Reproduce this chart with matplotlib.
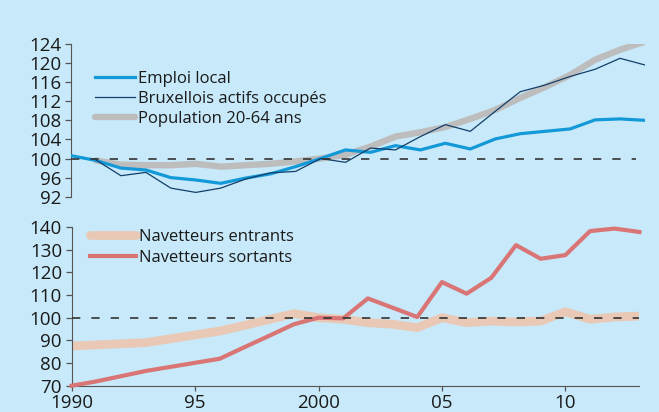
import matplotlib
matplotlib.use("Agg")
import numpy as np
import matplotlib.pyplot as plt

plt.rcParams["font.family"] = ["Open Sans", "DejaVu Sans"]

years = list(range(1990, 2014))

# panneau du haut
emploi_local = [100.6, 99.6, 98.0, 97.6, 96.0, 95.5, 94.8, 95.9, 96.8, 98.3, 100.0, 101.8,
                101.3, 102.7, 101.8, 103.2, 102.0, 104.1, 105.2, 105.7, 106.2, 108.1, 108.3, 108.0]
bruxellois = [np.nan, 99.7, 96.4, 97.1, 93.8, 92.9, 93.8, 95.7, 97.0, 97.3, 100.0, 99.2,
              102.2, 101.8, 104.6, 107.1, 105.7, 109.9, 114.0, 115.4, 117.2, 118.7, 121.0, 119.6]
population = [np.nan, 99.6, 98.7, 98.6, 98.6, 98.9, 98.3, 98.6, 98.9, 99.4, 100.0, 100.8,
              102.5, 104.6, 105.5, 106.6, 108.3, 110.2, 112.7, 115.0, 117.5, 120.7, 122.8, 124.5]

# panneau du bas
entrants = [87.5, 88.0, 88.5, 89.0, 90.7, 92.4, 94.1, 96.6, 99.2, 101.8, 100.0, 99.3,
            97.8, 97.1, 95.6, 100.0, 97.8, 98.5, 98.1, 98.5, 102.6, 99.3, 100.3, 100.7]
sortants = [70.0, 71.9, 74.2, 76.5, 78.3, 80.1, 81.9, 87.0, 92.0, 97.1, 100.0, 99.7,
            108.5, 104.4, 100.3, 115.7, 110.6, 117.6, 132.0, 126.0, 127.6, 138.2, 139.3, 137.8]

top_ticks = [92, 96, 100, 104, 108, 112, 116, 120, 124]
bottom_ticks = [70, 80, 90, 100, 110, 120, 130, 140]
x_ticks = [1990, 1995, 2000, 2005, 2010]
x_labels = ["1990", "95", "2000", "05", "10"]

bg = "#c7e9f9"
axis_col = "#555555"
text_col = "#1a1a1a"
fs = 13.5

fig = plt.figure(figsize=(6.59, 4.12), dpi=100, facecolor=bg)
ax1 = fig.add_axes([71 / 659, 1 - 196.7 / 412, 574 / 659, 152.7 / 412])
ax2 = fig.add_axes([71.7 / 659, 1 - 385.7 / 412, 567.7 / 659, 158.7 / 412])

for ax in (ax1, ax2):
    ax.set_facecolor(bg)
    ax.spines["top"].set_visible(False)
    ax.spines["right"].set_visible(False)
    ax.spines["left"].set_color(axis_col)
    ax.spines["bottom"].set_color(axis_col)
    ax.tick_params(axis="both", colors=axis_col, labelcolor=text_col, labelsize=fs,
                   length=4.5, width=0.9, pad=2.5)
    ax.set_xlim(1990, 2013)

dash = (0, (5, 6.6))

# haut
ax1.plot(years, population, color="#bdbdbd", lw=4.6, solid_capstyle="round",
         label="Population 20-64 ans", zorder=2)
ax1.plot(years, emploi_local, color="#1399d8", lw=2.3, label="Emploi local", zorder=3)
ax1.plot(years, bruxellois, color="#123f6a", lw=0.9, label="Bruxellois actifs occupés", zorder=4)
ax1.axhline(100, xmax=0.985, color="#333333", lw=1.2, linestyle=dash, zorder=5)
ax1.set_ylim(92, 124)
ax1.set_yticks(top_ticks)
ax1.spines["bottom"].set_visible(False)
ax1.tick_params(axis="x", bottom=False, labelbottom=False)

h, l = ax1.get_legend_handles_labels()
order = [1, 2, 0]
ax1.legend([h[i] for i in order], [l[i] for i in order], loc="upper left",
           bbox_to_anchor=(95 / 659, 1 - 71 / 412), bbox_transform=fig.transFigure,
           frameon=False, fontsize=12, handlelength=2.4, handletextpad=0.2,
           labelspacing=0.25, borderpad=0, borderaxespad=0, labelcolor=text_col)

# bas
ax2.plot(years, entrants, color="#e9c9b6", lw=6.3, solid_capstyle="round",
         label="Navetteurs entrants", zorder=2)
ax2.plot(years, sortants, color="#d97575", lw=3.0, label="Navetteurs sortants",
         zorder=3, clip_on=False)
ax2.axhline(100, color="#333333", lw=1.2, linestyle=dash, zorder=5)
ax2.set_ylim(70, 140)
ax2.set_yticks(bottom_ticks)
ax2.set_xticks(x_ticks)
ax2.set_xticklabels(x_labels)
ax2.tick_params(axis="x", length=3.5)

ax2.legend(loc="upper left", bbox_to_anchor=(90 / 659, 1 - 229 / 412),
           bbox_transform=fig.transFigure, frameon=False, fontsize=12,
           handlelength=2.75, handletextpad=0.2, labelspacing=0.3, borderpad=0,
           borderaxespad=0, labelcolor=text_col)

fig.savefig("out.png", dpi=100, facecolor=bg)
